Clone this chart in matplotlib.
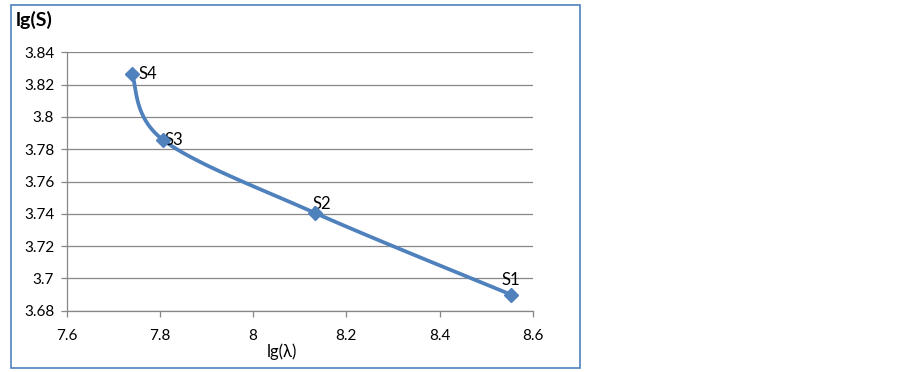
import matplotlib
matplotlib.use('Agg')
import matplotlib.pyplot as plt
from matplotlib.patches import Rectangle
import numpy as np

# 数据
labels = ['S1', 'S2', 'S3', 'S4']
lg_lambda = [8.553, 8.133, 7.807, 7.740]
lg_s = [3.690, 3.7405, 3.7857, 3.8266]

W, H = 903, 372
fig = plt.figure(figsize=(W / 100, H / 100), dpi=100)
plt.rcParams['font.family'] = ['Lato', 'DejaVu Sans']

ax = fig.add_axes([66.7 / W, 1 - 310.7 / H, 466 / W, 258.4 / H])
ax.set_xlim(7.6, 8.6)
ax.set_ylim(3.68, 3.84)
ax.set_xticks([7.6, 7.8, 8.0, 8.2, 8.4, 8.6])
ax.set_xticklabels(['7.6', '7.8', '8', '8.2', '8.4', '8.6'])
ax.set_yticks([3.68, 3.70, 3.72, 3.74, 3.76, 3.78, 3.80, 3.82, 3.84])
ax.set_yticklabels(['3.68', '3.7', '3.72', '3.74', '3.76', '3.78', '3.8', '3.82', '3.84'])
ax.grid(axis='y', color='#878787', linewidth=0.9)
ax.set_axisbelow(True)
for s in ['top', 'right']:
    ax.spines[s].set_visible(False)
for s in ['left', 'bottom']:
    ax.spines[s].set_color('#878787')
    ax.spines[s].set_linewidth(0.9)
ax.tick_params(axis='both', colors='#878787', labelcolor='black', labelsize=11,
               length=4, width=0.9, direction='out')
ax.tick_params(axis='x', pad=9)
ax.tick_params(axis='y', pad=5)

# Excel 风格平滑曲线 (屏幕坐标中的 Catmull-Rom)
fig.canvas.draw()
pts = ax.transData.transform(np.column_stack([lg_lambda, lg_s]))
n = len(pts)
curve = []
for i in range(n - 1):
    p0 = pts[i - 1] if i > 0 else pts[i]
    p1 = pts[i]
    p2 = pts[i + 1]
    p3 = pts[i + 2] if i + 2 < n else pts[i + 1]
    c1 = p1 + (p2 - p0) / 6
    c2 = p2 - (p3 - p1) / 6
    t = np.linspace(0, 1, 40)[:, None]
    seg = ((1 - t) ** 3) * p1 + 3 * ((1 - t) ** 2) * t * c1 + 3 * (1 - t) * t ** 2 * c2 + t ** 3 * p2
    curve.append(seg)
curve = ax.transData.inverted().transform(np.vstack(curve))
ax.plot(curve[:, 0], curve[:, 1], color='#4F81BD', linewidth=2.7, solid_capstyle='round', clip_on=False)
ax.plot(lg_lambda, lg_s, linestyle='none', marker='D', markersize=7,
        color='#4F81BD', clip_on=False, zorder=5)

# 数据标签
offsets = {'S1': (0, 5, 'center', 'bottom'), 'S2': (5, 1, 'center', 'bottom'),
           'S3': (1, 0, 'left', 'center'), 'S4': (5, 0, 'left', 'center')}
for lab, x, y in zip(labels, lg_lambda, lg_s):
    dx, dy, ha, va = offsets[lab]
    ax.annotate(lab, (x, y), xytext=(dx, dy), textcoords='offset points',
                ha=ha, va=va, fontsize=12)

fig.text(16 / W, 1 - 20 / H, 'lg(S)', fontsize=14, fontweight='bold', va='center', ha='left')
fig.text(267 / W, 1 - 352 / H, 'lg(λ)', fontsize=12, va='center', ha='left')

fig.patches.append(Rectangle((11 / W, 1 - 368 / H), 569 / W, 363 / H, transform=fig.transFigure,
                             fill=False, edgecolor='#4F81BD', linewidth=1.2))

fig.savefig('out.png', dpi=100)
